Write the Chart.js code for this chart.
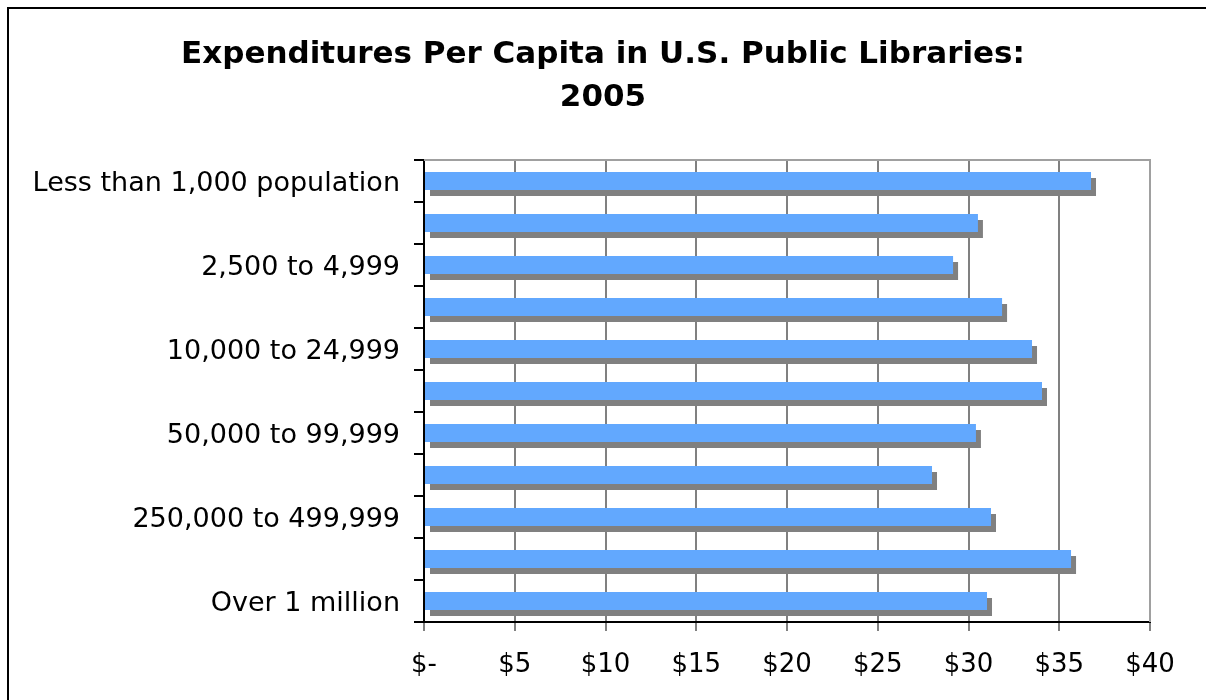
<!DOCTYPE html>
<html>
<head>
<meta charset="utf-8">
<script src="https://cdn.jsdelivr.net/npm/chart.js@4/dist/chart.umd.min.js"></script>
<style>
  body { margin: 0; background: #fff; }
  #wrap { position: relative; width: 1206px; height: 700px; overflow: hidden; }
  #frame { position: absolute; left: 7px; top: 7px; width: 1300px; height: 800px;
           border-top: 2px solid #000; border-left: 2px solid #000; pointer-events: none; }
  canvas { position: absolute; left: 0; top: 0; }
</style>
</head>
<body>
<div id="wrap">
  <canvas id="chart" width="1206" height="700"></canvas>
  <div id="frame"></div>
</div>
<script>
// chart data
const categories = [
  'Less than 1,000 population',
  '1,000 to 2,499',
  '2,500 to 4,999',
  '5,000 to 9,999',
  '10,000 to 24,999',
  '25,000 to 49,999',
  '50,000 to 99,999',
  '100,000 to 249,999',
  '250,000 to 499,999',
  '500,000 to 999,999',
  'Over 1 million'
];
const spendPerCapita = [36.75, 30.52, 29.15, 31.85, 33.5, 34.05, 30.41, 27.99, 31.24, 35.65, 31.02];
const xTicks = [0, 5, 10, 15, 20, 25, 30, 35, 40];
const titleLines = ['Expenditures Per Capita in U.S. Public Libraries:', '2005'];

const FONT = "'DejaVu Sans', Verdana, sans-serif";

// grey drop shadow under each bar, like the old Excel look
const barShadow = {
  id: 'barShadow',
  beforeDatasetsDraw(chart) {
    const ctx = chart.ctx;
    ctx.save();
    ctx.shadowColor = '#808080';
    ctx.shadowOffsetX = 5;
    ctx.shadowOffsetY = 6;
    ctx.shadowBlur = 0;
  },
  afterDatasetsDraw(chart) {
    chart.ctx.restore();
  }
};

// light grey top/right edge of the plot area
const plotFrame = {
  id: 'plotFrame',
  afterDraw(chart) {
    const { ctx, chartArea: a } = chart;
    ctx.save();
    ctx.strokeStyle = '#a0a0a0';
    ctx.lineWidth = 2;
    ctx.beginPath();
    ctx.moveTo(a.left, a.top);
    ctx.lineTo(a.right, a.top);
    ctx.lineTo(a.right, a.bottom);
    ctx.stroke();
    ctx.restore();
  }
};

// title centred on the whole canvas (built-in title ignores the right padding)
const pageTitle = {
  id: 'pageTitle',
  afterDraw(chart) {
    const ctx = chart.ctx;
    ctx.save();
    ctx.fillStyle = '#000';
    ctx.font = 'bold 31px ' + FONT;
    ctx.textAlign = 'center';
    ctx.textBaseline = 'alphabetic';
    titleLines.forEach((line, i) => {
      ctx.fillText(line, chart.width / 2, 63 + i * 43);
    });
    ctx.restore();
  }
};

new Chart(document.getElementById('chart'), {
  type: 'bar',
  data: {
    labels: categories,
    datasets: [{
      data: spendPerCapita,
      backgroundColor: '#62a8fe',
      borderWidth: 0,
      categoryPercentage: 1,
      barPercentage: 0.43
    }]
  },
  options: {
    indexAxis: 'y',
    responsive: false,
    animation: false,
    layout: { padding: { left: 0, right: 56, top: 160, bottom: 0 } },
    plugins: {
      legend: { display: false },
      tooltip: { enabled: false },
      title: { display: false }
    },
    scales: {
      x: {
        min: 0,
        max: 40,
        afterBuildTicks(scale) {
          scale.ticks = xTicks.map(v => ({ value: v }));
        },
        afterFit(scale) { scale.height = 78; },
        ticks: {
          color: '#000',
          font: { family: FONT, size: 26 },
          padding: 19,
          maxRotation: 0,
          callback: v => v === 0 ? '$-' : '$' + v
        },
        grid: { color: '#808080', lineWidth: 2, tickLength: 9 },
        border: { color: '#000', width: 2, z: 1 }
      },
      y: {
        afterFit(scale) { scale.width = 424; },
        ticks: {
          color: '#000',
          autoSkip: false,
          font: { family: FONT, size: 27 },
          padding: 14,
          labelOffset: 3,
          callback: (v, i) => i % 2 === 0 ? categories[i] : ''
        },
        grid: { drawOnChartArea: false, color: '#000', lineWidth: 2, tickLength: 10, offset: true },
        border: { color: '#000', width: 2, z: 1 }
      }
    }
  },
  plugins: [barShadow, plotFrame, pageTitle]
});
</script>
</body>
</html>
